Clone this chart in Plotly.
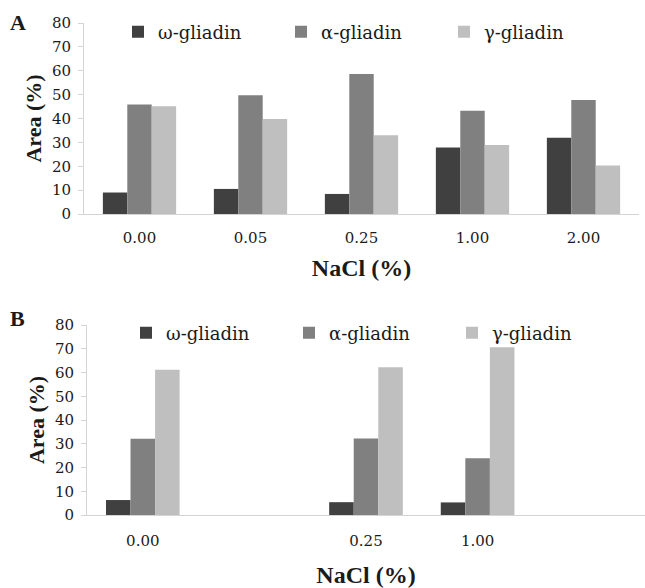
import plotly.graph_objects as go

# NaCl levels (%) shown on each panel's category axis
nacl_a = ["0.00", "0.05", "0.25", "1.00", "2.00"]
nacl_b = ["0.00", " ", "0.25", "1.00", "  "]

# Relative peak area (%) of each gliadin fraction
omega_a = [9.0, 10.5, 8.4, 27.9, 31.9]
alpha_a = [45.9, 49.7, 58.6, 43.2, 47.8]
gamma_a = [45.1, 39.8, 33.0, 28.9, 20.3]

omega_b = [6.3, None, 5.4, 5.3, None]
alpha_b = [32.1, None, 32.2, 23.9, None]
gamma_b = [61.2, None, 62.2, 70.6, None]

names = ["ω-gliadin", "α-gliadin", "γ-gliadin"]
colors = ["#404040", "#808080", "#bfbfbf"]

W, H = 645, 588
SERIF = "DejaVu Serif"          # regular text: ticks and legend
SERIF_BOLD = "Liberation Serif"  # bold titles and panel letters
TEXT = "#1a1a1a"
AXIS = "#d4d4d4"


def px_x(p):
    return p / W


def px_y(p):
    return 1 - p / H


fig = go.Figure()

for name, col, ya, yb in zip(names, colors, [omega_a, alpha_a, gamma_a], [omega_b, alpha_b, gamma_b]):
    fig.add_trace(go.Bar(x=nacl_a, y=ya, name=name, marker=dict(color=col, line=dict(width=0)),
                         xaxis="x", yaxis="y", legend="legend"))
    fig.add_trace(go.Bar(x=nacl_b, y=yb, name=name, marker=dict(color=col, line=dict(width=0)),
                         xaxis="x2", yaxis="y2", legend="legend2"))

axis_common = dict(
    showline=True, linecolor=AXIS, linewidth=1, showgrid=False, zeroline=False,
    tickfont=dict(family=SERIF, size=15, color=TEXT),
)

legend_common = dict(
    orientation="h", xanchor="left", yanchor="middle",
    entrywidth=118, entrywidthmode="pixels", bgcolor="rgba(0,0,0,0)",
    traceorder="normal", itemsizing="constant",
    font=dict(family=SERIF, size=18, color=TEXT),
)

x_title_font = dict(family=SERIF_BOLD, size=24, color=TEXT)
y_title_font = dict(family=SERIF_BOLD, size=22, color=TEXT)

fig.update_layout(
    width=W, height=H,
    margin=dict(l=0, r=0, t=0, b=0, autoexpand=False),
    paper_bgcolor="white", plot_bgcolor="white",
    barmode="group", bargap=0.34, bargroupgap=0,
    font=dict(family=SERIF, color=TEXT),
    xaxis=dict(domain=[px_x(84), px_x(639)], anchor="y", type="category",
               ticks="", ticklabelstandoff=10,
               title=dict(text="<b>NaCl (%)</b>", font=x_title_font, standoff=13),
               **axis_common),
    yaxis=dict(domain=[px_y(214), px_y(23)], anchor="x", range=[0, 80], dtick=10,
               ticks="outside", ticklen=5, tickcolor=AXIS, ticklabelstandoff=4,
               title=dict(text="<b>Area (%)</b>", font=y_title_font, standoff=4),
               **axis_common),
    xaxis2=dict(domain=[px_x(87), 1.0], anchor="y2", type="category",
                ticks="", ticklabelstandoff=12,
                title=dict(text="<b>NaCl (%)</b>", font=x_title_font, standoff=21),
                **axis_common),
    yaxis2=dict(domain=[px_y(515), px_y(325)], anchor="x2", range=[0, 80], dtick=10,
                ticks="outside", ticklen=5, tickcolor=AXIS, ticklabelstandoff=4,
                title=dict(text="<b>Area (%)</b>", font=y_title_font, standoff=4),
                **axis_common),
    legend=dict(x=px_x(118), y=px_y(32), **legend_common),
    legend2=dict(x=px_x(126), y=px_y(333), **legend_common),
    annotations=[
        dict(text="<b>A</b>", x=px_x(8), y=px_y(22), xref="paper", yref="paper",
             xanchor="left", yanchor="middle", showarrow=False,
             font=dict(family=SERIF_BOLD, size=22, color=TEXT)),
        dict(text="<b>B</b>", x=px_x(8), y=px_y(318), xref="paper", yref="paper",
             xanchor="left", yanchor="middle", showarrow=False,
             font=dict(family=SERIF_BOLD, size=22, color=TEXT)),
    ],
)

fig.write_html("out.html")
